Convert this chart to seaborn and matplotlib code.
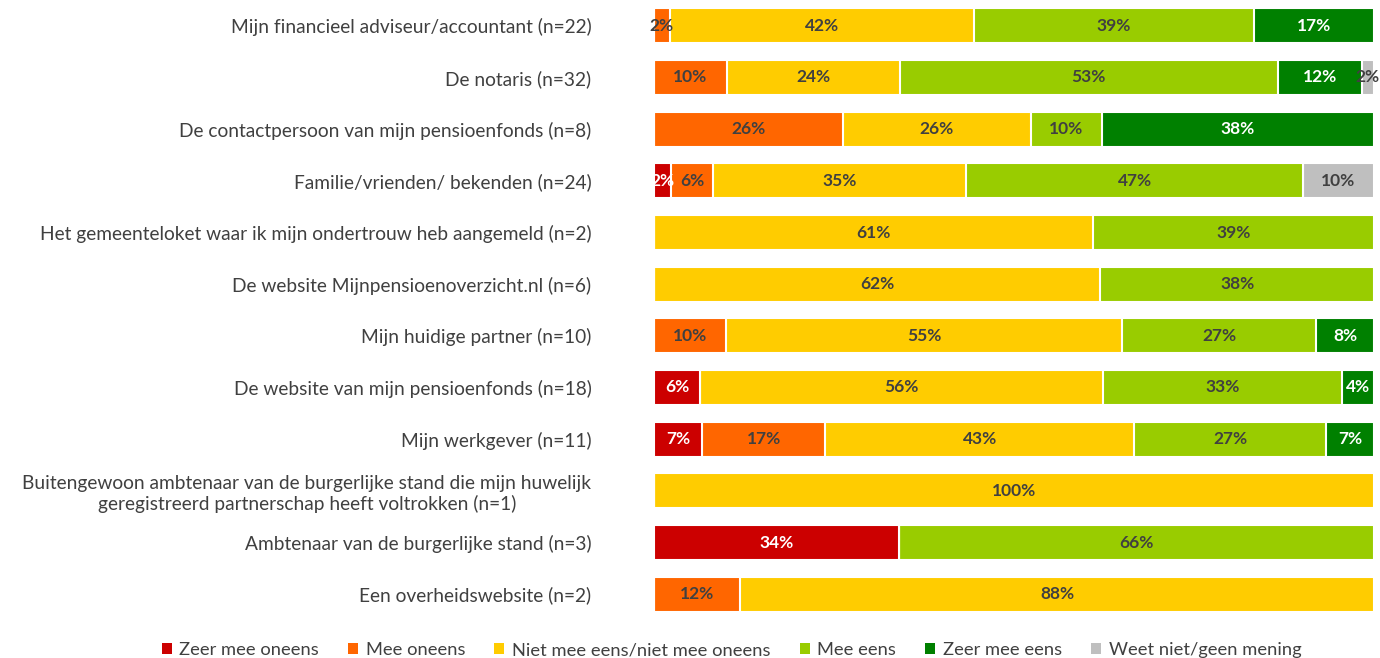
import matplotlib
matplotlib.use("Agg")
import matplotlib.pyplot as plt
from matplotlib.patches import Patch
import seaborn as sns
import numpy as np

categories = [
    "Mijn financieel adviseur/accountant (n=22)",
    "De notaris (n=32)",
    "De contactpersoon van mijn pensioenfonds (n=8)",
    "Familie/vrienden/ bekenden (n=24)",
    "Het gemeenteloket waar ik mijn ondertrouw heb aangemeld (n=2)",
    "De website Mijnpensioenoverzicht.nl (n=6)",
    "Mijn huidige partner (n=10)",
    "De website van mijn pensioenfonds (n=18)",
    "Mijn werkgever (n=11)",
    "Buitengewoon ambtenaar van de burgerlijke stand die mijn huwelijk\ngeregistreerd partnerschap heeft voltrokken (n=1)",
    "Ambtenaar van de burgerlijke stand (n=3)",
    "Een overheidswebsite (n=2)",
]
series_names = ["Zeer mee oneens", "Mee oneens", "Niet mee eens/niet mee oneens",
                "Mee eens", "Zeer mee eens", "Weet niet/geen mening"]

zeer_mee_oneens = [0, 0, 0, 2.4, 0, 0, 0, 6.4, 6.7, 0, 34, 0]
mee_oneens      = [2.2, 10.1, 26.2, 5.8, 0, 0, 10, 0, 17.1, 0, 0, 12]
neutraal        = [42.2, 24.0, 26.1, 35.2, 61, 62, 55, 56.0, 42.9, 100, 0, 88]
mee_eens        = [38.9, 52.6, 9.9, 46.7, 39, 38, 27, 33.2, 26.6, 0, 66, 0]
zeer_mee_eens   = [16.7, 11.6, 37.8, 0, 0, 0, 8, 4.4, 6.7, 0, 0, 0]
weet_niet       = [0, 1.7, 0, 9.9, 0, 0, 0, 0, 0, 0, 0, 0]

colors = ["#CC0000", "#FF6600", "#FFCC00", "#99CC00", "#008000", "#BFBFBF"]
label_colors = ["white", "#404040", "#404040", "#404040", "white", "#404040"]

sns.set_theme(style="white")
plt.rcParams["font.family"] = ["Lato", "DejaVu Sans"]

data = np.array([zeer_mee_oneens, mee_oneens, neutraal, mee_eens, zeer_mee_eens, weet_niet])
cum = np.cumsum(data, axis=0)

fig = plt.figure(figsize=(13.8, 6.58), dpi=100)
ax = fig.add_axes([654 / 1380, 1 - 620 / 658, 720 / 1380, 620 / 658])

for i in reversed(range(len(series_names))):
    sns.barplot(x=cum[i], y=categories, color=colors[i], orient="h", width=0.68,
                edgecolor="white", linewidth=1.5, ax=ax, saturation=1)

for i in range(len(series_names)):
    for j in range(len(categories)):
        v = data[i, j]
        if v > 0:
            ax.text(cum[i, j] - v / 2, j, f"{v:.0f}%", ha="center", va="center",
                    fontsize=12.5, fontweight="bold", color=label_colors[i])

ax.set_xlim(0, 100)
ax.set_ylim(11.5, -0.5)
ax.set_xlabel("")
ax.set_ylabel("")
ax.set_xticks([])
for s in ax.spines.values():
    s.set_visible(False)
ax.tick_params(axis="y", length=0, pad=45, labelsize=13.8, labelcolor="#404040")
for lab in ax.get_yticklabels():
    lab.set_multialignment("center")

handles = [Patch(facecolor=c, edgecolor="none") for c in colors]
fig.legend(handles, series_names, loc="center", bbox_to_anchor=(0.53, 0.012), ncol=6,
           frameon=False, handlelength=0.55, handleheight=0.55, handletextpad=0.4,
           columnspacing=1.6, fontsize=13.2, labelcolor="#404040")

fig.savefig("out.png", dpi=100)
